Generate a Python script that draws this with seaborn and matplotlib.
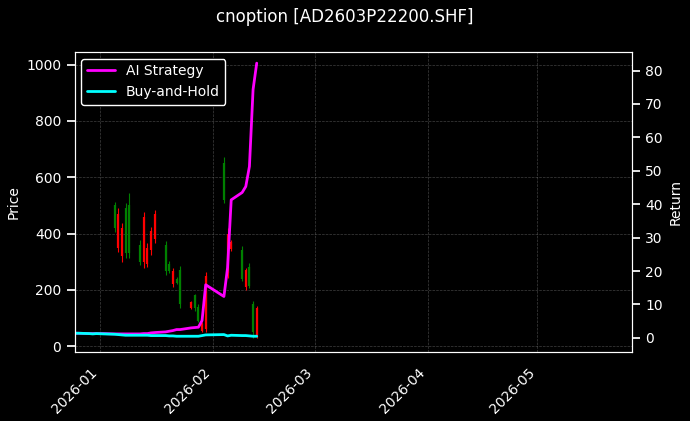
import pandas as pd
import seaborn as sns
import matplotlib.pyplot as plt
import matplotlib.dates as mdates

sns.set_theme(style='dark')
plt.style.use('dark_background')
plt.rcParams.update({'font.size': 10, 'axes.labelsize': 10, 'xtick.labelsize': 10,
                     'ytick.labelsize': 10, 'legend.fontsize': 10, 'figure.titlesize': 12,
                     'axes.linewidth': 0.8, 'font.family': ['DejaVu Sans']})

# candle data
candle_dates = ['2026-01-05', '2026-01-06', '2026-01-07', '2026-01-08', '2026-01-09',
                '2026-01-12', '2026-01-13', '2026-01-14', '2026-01-15', '2026-01-16',
                '2026-01-19', '2026-01-20', '2026-01-21', '2026-01-22', '2026-01-23',
                '2026-01-26', '2026-01-27', '2026-01-28', '2026-01-29', '2026-01-30',
                '2026-02-04', '2026-02-05', '2026-02-06', '2026-02-09', '2026-02-10',
                '2026-02-11', '2026-02-12', '2026-02-13']
highs = [513, 489, 436, 507, 545, 376, 475, 365, 424, 485, 374, 303, 276, 246, 284,
         160, 185, 149, 84, 262, 671, 420, 378, 355, 276, 294, 160, 142]
lows = [407, 335, 300, 312, 312, 288, 276, 282, 323, 365, 252, 258, 210, 222, 137,
        130, 125, 84, 49, 49, 509, 242, 337, 230, 201, 205, 30, 30]
opens = [420, 470, 420, 330, 330, 300, 460, 350, 410, 470, 265, 265, 265, 225, 150,
         155, 135, 90, 80, 250, 520, 400, 370, 240, 270, 215, 50, 135]
closes = [500, 350, 320, 490, 500, 360, 300, 290, 340, 380, 360, 290, 220, 240, 270,
          135, 180, 140, 55, 60, 650, 260, 345, 340, 210, 280, 150, 40]

# return curves
ret_dates = ['2025-12-25', '2025-12-26', '2025-12-29', '2025-12-30', '2025-12-31',
             '2026-01-02'] + candle_dates
ai_return = [1.4, 1.4, 1.3, 1.3, 1.3, 1.3,
             1.2, 1.2, 1.2, 1.2, 1.2, 1.2, 1.3, 1.3, 1.5, 1.6,
             1.8, 2.0, 2.2, 2.5, 2.5, 3.0, 3.1, 3.2, 5.2, 15.9,
             12.4, 21.0, 41.3, 43.5, 45.3, 51.3, 74.3, 82.2]
bh_return = [1.4, 1.4, 1.3, 1.2, 1.3, 1.2,
             1.1, 1.0, 0.9, 0.8, 0.8, 0.8, 0.8, 0.8, 0.7, 0.7,
             0.7, 0.6, 0.6, 0.5, 0.5, 0.5, 0.5, 0.5, 0.7, 0.9,
             1.0, 0.6, 0.8, 0.7, 0.7, 0.6, 0.5, 0.5]

df = pd.DataFrame({'date': pd.to_datetime(candle_dates), 'open': opens, 'high': highs,
                   'low': lows, 'close': closes})
rets = pd.DataFrame({'date': pd.to_datetime(ret_dates), 'AI Strategy': ai_return,
                     'Buy-and-Hold': bh_return})

fig, ax = plt.subplots(figsize=(6.9, 4.21), dpi=100)
fig.patch.set_facecolor('black')
ax.set_facecolor('black')

colors = ['green' if c >= o else 'red' for o, c in zip(df['open'], df['close'])]
ax.vlines(df['date'], df['low'], df['high'], colors=colors, linewidth=0.8)
ax.vlines(df['date'], df[['open', 'close']].min(axis=1), df[['open', 'close']].max(axis=1),
          colors=colors, linewidth=1.6)
ax.set_ylabel('Price')
ax.set_ylim(-21, 1046)
ax.set_xlim(pd.Timestamp('2025-12-25'), pd.Timestamp('2026-05-27'))
ax.grid(True, color='gray', linestyle='--', linewidth=0.5, alpha=0.5)

ax2 = ax.twinx()
sns.lineplot(data=rets, x='date', y='AI Strategy', ax=ax2, color='magenta', linewidth=2, label='AI Strategy')
sns.lineplot(data=rets, x='date', y='Buy-and-Hold', ax=ax2, color='cyan', linewidth=2, label='Buy-and-Hold')
ax2.set_ylim(-4.2, 85.6)
ax2.set_ylabel('Return')
ax2.set_xlabel('')
ax2.legend(loc='upper left', facecolor='black', edgecolor='white', framealpha=1)

ax.xaxis.set_major_locator(mdates.MonthLocator())
ax.xaxis.set_major_formatter(mdates.DateFormatter('%Y-%m'))
plt.setp(ax.get_xticklabels(), rotation=45, ha='right')
for a in (ax, ax2):
    for s in a.spines.values():
        s.set_color('white')
        s.set_linewidth(0.8)

fig.suptitle('cnoption [AD2603P22200.SHF]')
fig.subplots_adjust(left=0.108, right=0.916, top=0.877, bottom=0.164)
fig.savefig('out.png', dpi=100, facecolor='black')
